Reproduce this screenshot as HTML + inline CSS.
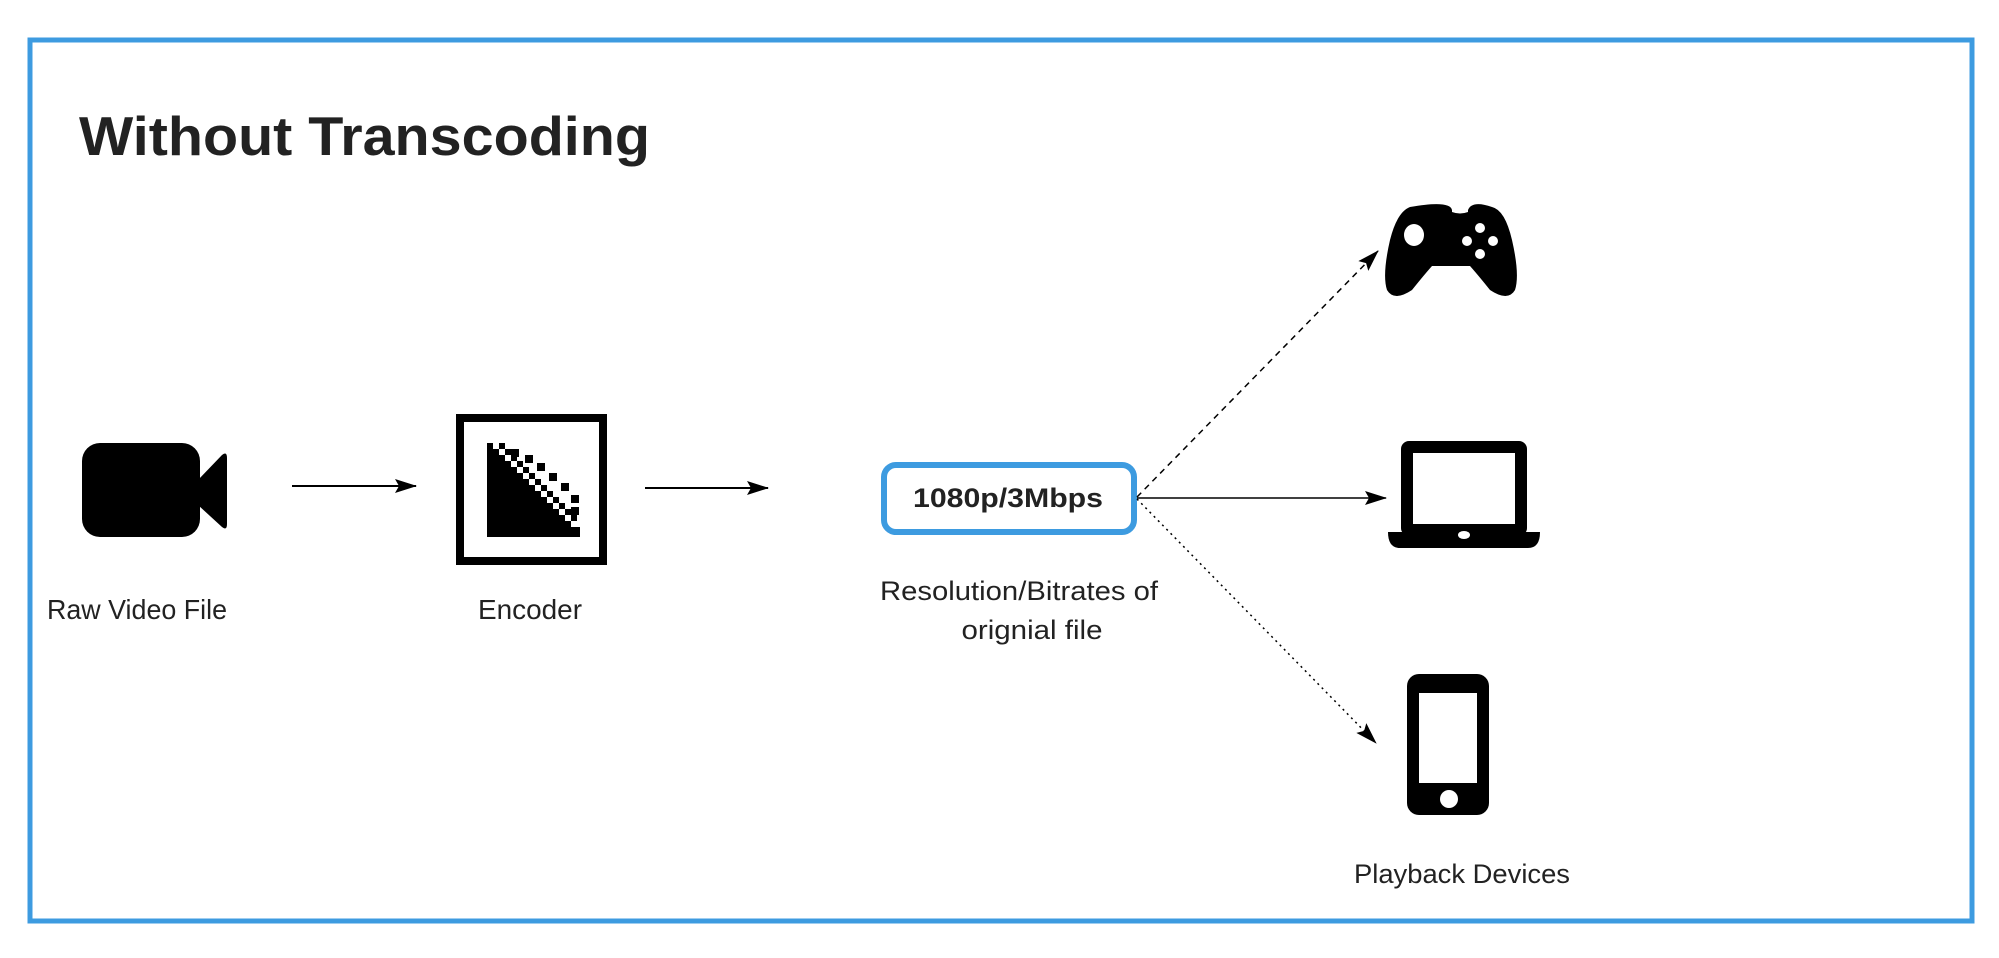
<!DOCTYPE html>
<html><head><meta charset="utf-8"><style>
html,body{margin:0;padding:0;background:#fff;}
svg{display:block;}
text{font-family:"Liberation Sans",sans-serif;fill:#222;}
</style></head><body>
<svg width="1999" height="958" viewBox="0 0 1999 958" xmlns="http://www.w3.org/2000/svg">
<defs>
<marker id="ah" markerWidth="22" markerHeight="14" refX="21" refY="7" orient="auto" markerUnits="userSpaceOnUse">
<path d="M0,0 L22,7 L0,14 L4,7 Z" fill="#000"/>
</marker>
</defs>
<rect x="30" y="40" width="1942" height="881" fill="none" stroke="#3d9be0" stroke-width="5"/>
<text x="79" y="155" font-size="55" font-weight="bold" textLength="571" lengthAdjust="spacingAndGlyphs">Without Transcoding</text>

<rect x="82" y="443" width="118" height="94" rx="18" fill="#000"/>
<path d="M198,480 L222,455 Q227,451 227,458 L227,524 Q227,531 222,527 L198,505 Z" fill="#000"/>
<text x="47" y="619" font-size="28" textLength="180" lengthAdjust="spacingAndGlyphs">Raw Video File</text>

<line x1="292" y1="486" x2="416" y2="486" stroke="#000" stroke-width="2" marker-end="url(#ah)"/>

<rect x="460" y="418" width="143" height="143" fill="none" stroke="#000" stroke-width="8"/>
<path d="M487,443 L493,443 L493,449 L499,449 L499,455 L505,455 L505,461 L511,461 L511,467 L517,467 L517,473 L523,473 L523,479 L529,479 L529,485 L535,485 L535,491 L541,491 L541,497 L547,497 L547,503 L553,503 L553,509 L559,509 L559,515 L565,515 L565,521 L571,521 L571,527 L580,527 L580,537 L487,537 Z" fill="#000"/>
<g fill="#000">
<rect x="499" y="443" width="6" height="6"/><rect x="505" y="449" width="6" height="6"/>
<rect x="511" y="455" width="6" height="6"/><rect x="517" y="461" width="6" height="6"/>
<rect x="523" y="467" width="6" height="6"/><rect x="529" y="473" width="6" height="6"/>
<rect x="535" y="479" width="6" height="6"/><rect x="541" y="485" width="6" height="6"/>
<rect x="547" y="491" width="6" height="6"/><rect x="553" y="497" width="6" height="6"/>
<rect x="559" y="503" width="6" height="6"/><rect x="565" y="509" width="6" height="6"/>
<rect x="571" y="515" width="6" height="6"/>
<rect x="511" y="449" width="8" height="8"/><rect x="525" y="455" width="8" height="8"/>
<rect x="537" y="463" width="8" height="8"/><rect x="549" y="473" width="8" height="8"/>
<rect x="561" y="483" width="8" height="8"/><rect x="571" y="495" width="8" height="8"/>
<rect x="571" y="507" width="8" height="8"/>
</g>
<text x="530" y="619" font-size="28" text-anchor="middle" textLength="104" lengthAdjust="spacingAndGlyphs">Encoder</text>

<line x1="645" y1="488" x2="768" y2="488" stroke="#000" stroke-width="2" marker-end="url(#ah)"/>

<rect x="884" y="465" width="250" height="67" rx="12" fill="#fff" stroke="#3d9be0" stroke-width="6"/>
<text x="1008" y="507" font-size="27" font-weight="bold" text-anchor="middle" textLength="190" lengthAdjust="spacingAndGlyphs">1080p/3Mbps</text>
<text x="1019" y="600" font-size="27" text-anchor="middle" textLength="278" lengthAdjust="spacingAndGlyphs">Resolution/Bitrates of</text>
<text x="1032" y="639" font-size="27" text-anchor="middle" textLength="141" lengthAdjust="spacingAndGlyphs">orignial file</text>

<line x1="1137" y1="497" x2="1378" y2="251" stroke="#000" stroke-width="1.5" stroke-dasharray="6,5" marker-end="url(#ah)"/>
<line x1="1137" y1="498" x2="1386" y2="498" stroke="#000" stroke-width="1.5" marker-end="url(#ah)"/>
<line x1="1137" y1="499" x2="1376" y2="743" stroke="#000" stroke-width="1.5" stroke-dasharray="2,4" marker-end="url(#ah)"/>

<path d="M1410,207 Q1450,200 1452,210 L1452,212 Q1460,215 1468,212 L1468,210 Q1472,200 1492,207 Q1505,210 1512,240 Q1520,275 1515,290 Q1508,302 1490,290 Q1478,275 1470,266 L1432,266 Q1424,275 1412,290 Q1394,302 1387,290 Q1382,275 1390,240 Q1397,212 1410,207 Z" fill="#000"/>
<ellipse cx="1414" cy="235" rx="10" ry="11" fill="#fff"/>
<circle cx="1480" cy="228" r="5" fill="#fff"/>
<circle cx="1480" cy="254" r="5" fill="#fff"/>
<circle cx="1467" cy="241" r="5" fill="#fff"/>
<circle cx="1493" cy="241" r="5" fill="#fff"/>

<rect x="1401" y="441" width="126" height="95" rx="8" fill="#000"/>
<rect x="1413" y="453" width="102" height="71" fill="#fff"/>
<path d="M1388,532 L1540,532 Q1540,548 1528,548 L1400,548 Q1388,548 1388,532 Z" fill="#000"/>
<ellipse cx="1464" cy="535" rx="6" ry="4" fill="#fff"/>

<rect x="1407" y="674" width="82" height="141" rx="12" fill="#000"/>
<rect x="1419" y="693" width="58" height="90" fill="#fff"/>
<circle cx="1449" cy="799" r="9" fill="#fff"/>

<text x="1462" y="883" font-size="27" text-anchor="middle" textLength="216" lengthAdjust="spacingAndGlyphs">Playback Devices</text>
</svg>
</body></html>
